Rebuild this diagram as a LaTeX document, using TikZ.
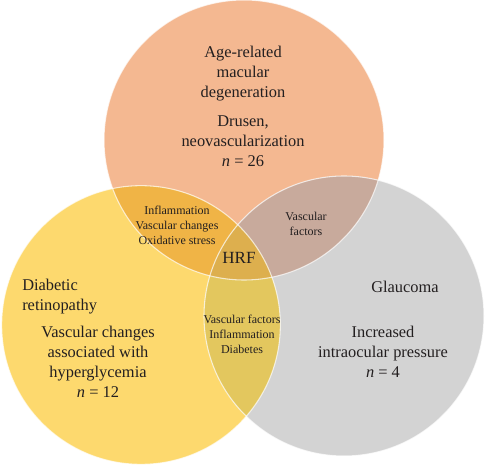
\documentclass[tikz,border=0pt]{standalone}
\usepackage{fontspec}
\setmainfont{Liberation Serif}
\definecolor{cOr}{HTML}{F4B891}
\definecolor{cYe}{HTML}{FDD96E}
\definecolor{cGr}{HTML}{D3D3D3}
\definecolor{cOY}{HTML}{F0B446}
\definecolor{cOG}{HTML}{C8AA9C}
\definecolor{cYG}{HTML}{E3C75E}
\definecolor{cAll}{HTML}{DDAF4E}
\definecolor{txt}{HTML}{231F20}
\def\circA{(244,140) circle[radius=105pt]}
\def\circB{(141,325) circle[radius=104.5pt]}
\def\circC{(344,316) circle[radius=105pt]}
\begin{document}
\begin{tikzpicture}[x=0.75pt,y=-0.75pt,
  big/.style={font=\fontsize{12.3}{15}\selectfont, align=center, text=txt, inner sep=0pt},
  bigl/.style={font=\fontsize{12.3}{15}\selectfont, align=left, text=txt, inner sep=0pt},
  small/.style={font=\fontsize{9}{11.25}\selectfont, align=center, text=txt, inner sep=0pt},
  hrf/.style={font=\fontsize{12.8}{15}\selectfont, text=txt, inner sep=0pt},
  rim/.style={draw=white, line width=0.8pt, draw opacity=0.7}]
\useasboundingbox (0,0) rectangle (485,466);
% base fills
\fill[cOr] \circA;
\fill[cYe] \circB;
\fill[cGr] \circC;
% pairwise overlaps
\begin{scope}\clip \circA; \fill[cOY] \circB; \end{scope}
\begin{scope}\clip \circA; \fill[cOG] \circC; \end{scope}
\begin{scope}\clip \circB; \fill[cYG] \circC; \end{scope}
\begin{scope}\clip \circA; \clip \circB; \fill[cAll] \circC; \end{scope}
% rims
\draw[rim] \circA;
\draw[rim] \circB;
\draw[rim] \circC;
% texts
\node[big] (amdname) at (243,74) {Age-related\\macular\\degeneration};
\node[big] (amdinfo) at (243,141) {Drusen,\\neovascularization\\\textit{n} = 26};
\node[bigl, anchor=west] (drname) at (22,297) {Diabetic\\retinopathy};
\node[big] (drinfo) at (98,362) {Vascular changes\\associated with\\hyperglycemia\\\textit{n} = 12};
\node[big] (glname) at (405,287) {Glaucoma};
\node[big] (glinfo) at (383,352) {Increased\\intraocular pressure\\\textit{n} = 4};
\node[small] (ab) at (177,225) {Inflammation\\Vascular changes\\Oxidative stress};
\node[small] (ac) at (306,223.5) {Vascular\\factors};
\node[small] (bc) at (242,334) {Vascular factors\\Inflammation\\Diabetes};
\node[hrf] (hrf) at (239,258) {HRF};
\end{tikzpicture}
\end{document}
